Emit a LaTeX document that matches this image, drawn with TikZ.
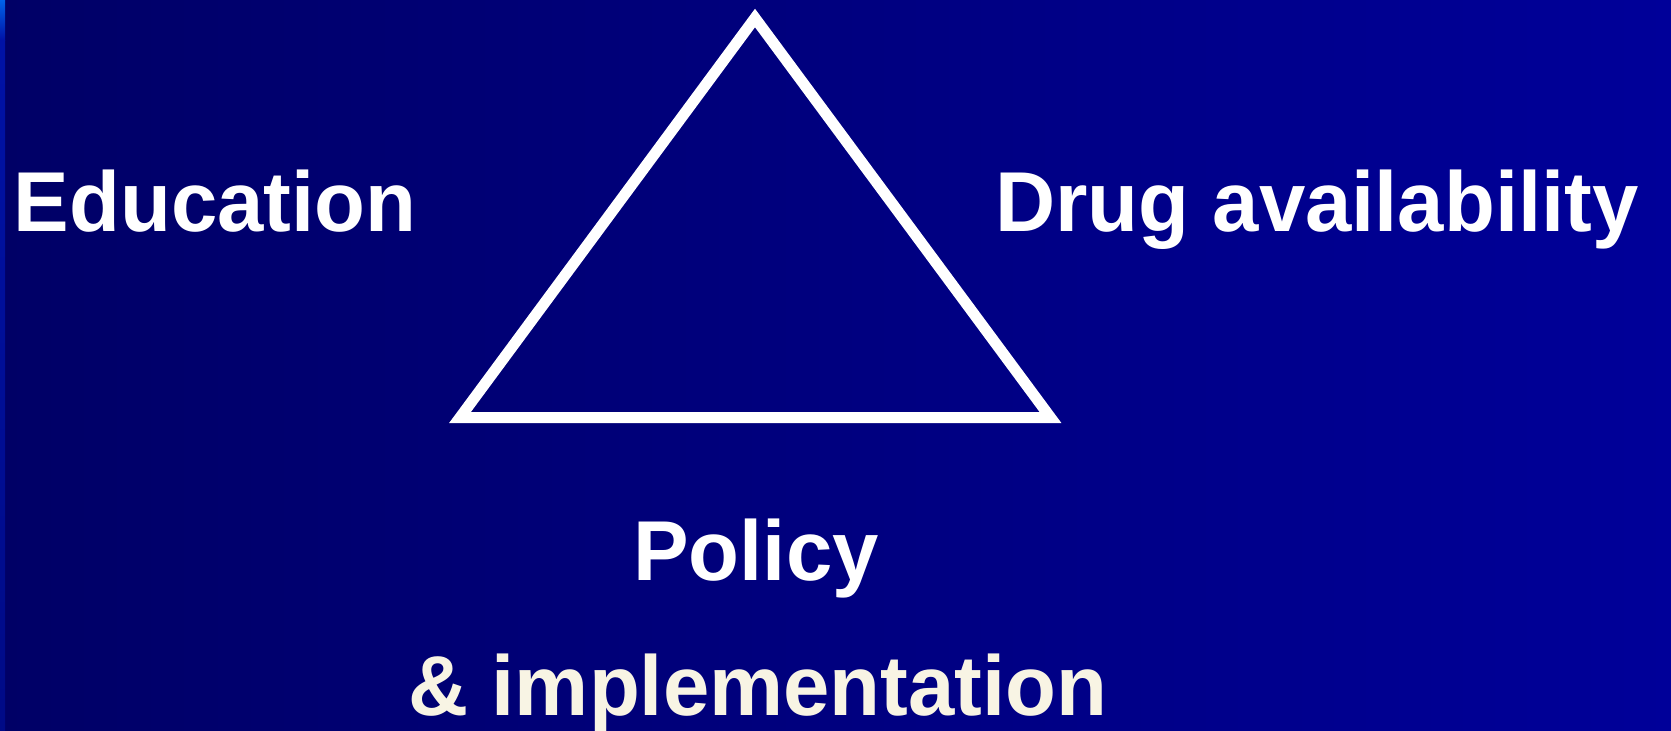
\documentclass[tikz,border=0pt]{standalone}
\usepackage{fontspec}
\setmainfont{Liberation Sans}
\definecolor{bgleft}{HTML}{000066}
\definecolor{bgmid}{HTML}{00007F}
\definecolor{bgright}{HTML}{000099}
\definecolor{barTop}{HTML}{0062EA}
\definecolor{barMid}{HTML}{0012A6}
\definecolor{barBot}{HTML}{000A86}
\definecolor{cream}{HTML}{F8F4E4}
\tikzset{
  label text/.style={font=\fontsize{85}{100}\selectfont\bfseries, text=white, inner sep=0pt, anchor=base, xscale=0.98},
  tri/.style={draw=white, line width=11pt, miter limit=10, line join=miter}
}
\begin{document}
\begin{tikzpicture}[x=1pt,y=-1pt]
\useasboundingbox (0,0) rectangle (1671,731);
\shade[left color=bgleft, right color=bgright, middle color=bgmid] (0,0) rectangle (1671,731);
\shade[top color=barTop, bottom color=barMid] (0,0) rectangle (5,40);
\shade[top color=barMid, bottom color=barBot] (0,40) rectangle (5,731);
\coordinate (apex) at (755,18);
\coordinate (bl) at (460,417.5);
\coordinate (br) at (1050.5,417.5);
\draw[tri] (apex) -- (bl) -- (br) -- cycle;
\node[label text] (edu) at (215,231) {Education};
\node[label text] (drug) at (1317,231) {Drug availability};
\node[label text] (pol) at (756,580) {Policy};
\node[label text, text=cream] (impl) at (758,715) {\& implementation};
\end{tikzpicture}
\end{document}
